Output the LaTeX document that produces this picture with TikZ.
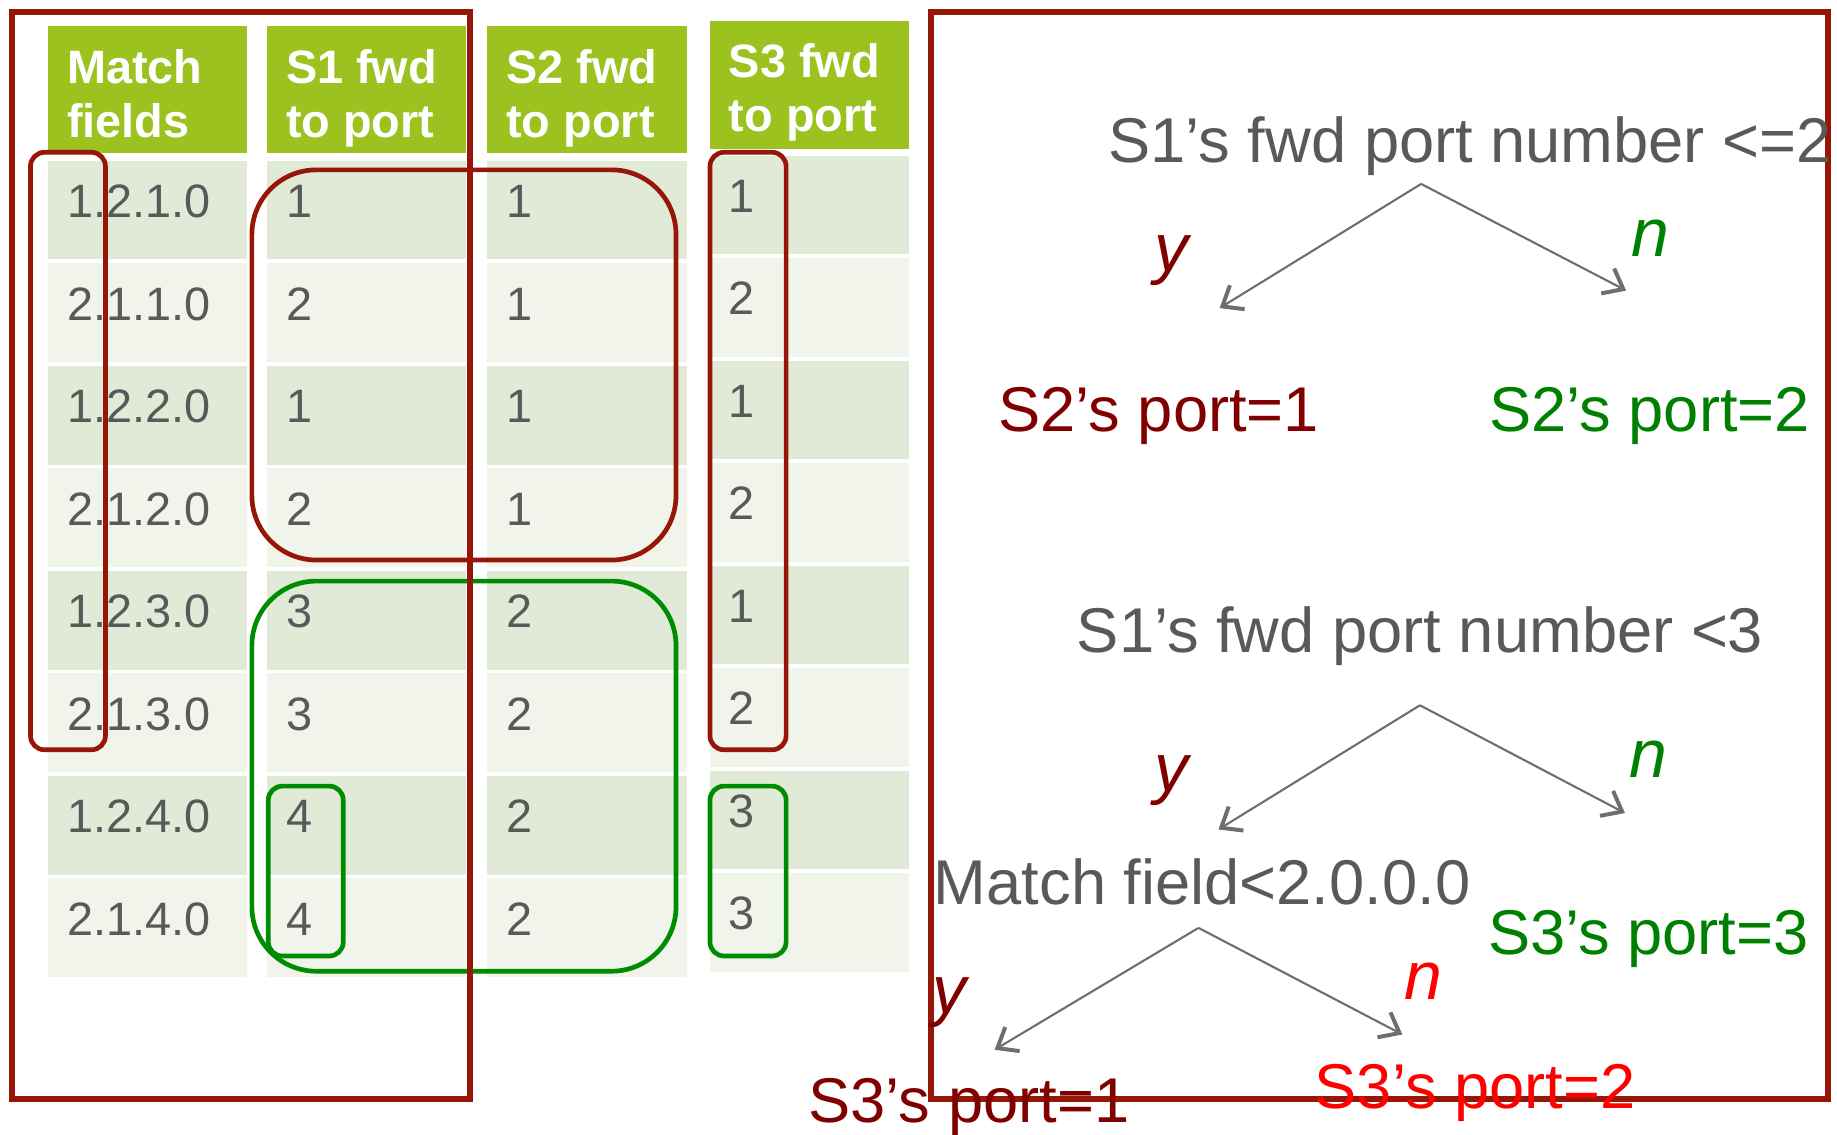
\documentclass[tikz,border=0pt]{standalone}
\usepackage{fontspec}
\setmainfont{Liberation Sans}
\usetikzlibrary{arrows.meta}
\definecolor{framered}{RGB}{150,22,8}
\definecolor{hdrgreen}{RGB}{155,194,30}
\definecolor{rowdark}{RGB}{224,234,214}
\definecolor{rowlight}{RGB}{240,244,234}
\definecolor{txtgray}{RGB}{89,89,89}
\definecolor{dred}{RGB}{128,0,0}
\definecolor{dgreen}{RGB}{0,128,0}
\definecolor{boxgreen}{RGB}{0,140,0}
\definecolor{brightred}{RGB}{255,0,0}
\definecolor{arrgray}{RGB}{110,110,110}
\tikzset{
  cellbg/.style={draw=none, inner sep=0pt, outer sep=0pt, minimum width=170pt, minimum height=84.5pt, anchor=north west},
  hdrbox/.style={fill=hdrgreen, draw=none, inner sep=0pt, outer sep=0pt, minimum width=170pt, minimum height=109pt, anchor=north west},
  hdrtxt/.style={text=white, font=\fontsize{40}{46}\selectfont\bfseries, anchor=base west, inner sep=0pt},
  celltxt/.style={text=txtgray, font=\fontsize{40}{46}\selectfont, anchor=base west, inner sep=0pt},
  treetxt/.style={font=\fontsize{54}{60}\selectfont, anchor=base west, inner sep=0pt},
  yntxt/.style={font=\fontsize{58}{64}\selectfont\itshape, anchor=base west, inner sep=0pt},
  bigframe/.style={draw=framered, line width=5pt},
  roundbox/.style={line width=4pt, fill=none},
  arr/.style={draw=arrgray, line width=1.8pt, -{Straight Barb[length=15pt,width=24pt,line width=3.4pt]}},
}
\begin{document}
\begin{tikzpicture}[x=1pt,y=-1pt]
\useasboundingbox (0,0) rectangle (1568,968);

% headers
\node[hdrbox] (h1) at (41,22) {};
\node[hdrbox] (h2) at (228,22) {};
\node[hdrbox] (h3) at (416,22) {};
\node[hdrbox] (h4) at (606,18) {};
\node[hdrtxt] (h1a) at (57,71) {Match};
\node[hdrtxt] (h1b) at (57,117) {fields};
\node[hdrtxt] (h2a) at (244,71) {S1 fwd};
\node[hdrtxt] (h2b) at (244,117) {to port};
\node[hdrtxt] (h3a) at (432,71) {S2 fwd};
\node[hdrtxt] (h3b) at (432,117) {to port};
\node[hdrtxt] (h4a) at (622,66) {S3 fwd};
\node[hdrtxt] (h4b) at (622,112) {to port};

% row backgrounds
\foreach \i/\fc in {0/rowdark,1/rowlight,2/rowdark,3/rowlight,4/rowdark,5/rowlight,6/rowdark,7/rowlight}{
  \foreach \c/\xx in {1/41,2/228,3/416}{
    \node[cellbg, fill=\fc] (bg-\c-\i) at (\xx,{137+87.5*\i}) {};
  }
  \node[cellbg, fill=\fc, minimum height=84pt] (bg-4-\i) at (606,{133+87.5*\i}) {};
}

% cell texts
\foreach \v [count=\i from 0] in {1.2.1.0,2.1.1.0,1.2.2.0,2.1.2.0,1.2.3.0,2.1.3.0,1.2.4.0,2.1.4.0}{
  \node[celltxt] (t-1-\i) at (57,{186+87.5*\i}) {\v};
}
\foreach \v [count=\i from 0] in {1,2,1,2,3,3,4,4}{
  \node[celltxt] (t-2-\i) at (244,{186+87.5*\i}) {\v};
}
\foreach \v [count=\i from 0] in {1,1,1,1,2,2,2,2}{
  \node[celltxt] (t-3-\i) at (432,{186+87.5*\i}) {\v};
}
\foreach \v [count=\i from 0] in {1,2,1,2,1,2,3,3}{
  \node[celltxt] (t-4-\i) at (622,{181+87.5*\i}) {\v};
}

% rounded grouping boxes
\draw[roundbox, draw=framered, rounded corners=12pt] (26,130) rectangle (90,640);
\draw[roundbox, draw=framered, rounded corners=55pt] (215,145) rectangle (577,478);
\draw[roundbox, draw=boxgreen, rounded corners=55pt] (215,496) rectangle (577,829);
\draw[roundbox, draw=boxgreen, rounded corners=12pt] (229,671) rectangle (293,816);
\draw[roundbox, draw=framered, rounded corners=12pt] (606,130) rectangle (671,640);
\draw[roundbox, draw=boxgreen, rounded corners=12pt] (606,671) rectangle (671,816);

% big frames
\draw[bigframe] (10,10) rectangle (401,938);
\draw[bigframe] (795,10) rectangle (1560,938);

% decision tree
\node[treetxt, text=txtgray] (q1) at (946,139) {S1’s fwd port number <=2};
\node[treetxt, text=dred] (s2p1) at (852,368) {S2’s port=1};
\node[treetxt, text=dgreen] (s2p2) at (1271,368) {S2’s port=2};
\node[yntxt, text=dred] (y1) at (985,232) {y};
\node[yntxt, text=dgreen] (n1) at (1392,219) {n};
\coordinate (a1) at (1213,157);
\coordinate (a1l) at (1041,263);
\coordinate (a1r) at (1388,248);
\draw[arr] (a1) -- (a1l);
\draw[arr] (a1) -- (a1r);

\node[treetxt, text=txtgray] (q2) at (919,557) {S1’s fwd port number <3};
\node[yntxt, text=dred] (y2) at (985,676) {y};
\node[yntxt, text=dgreen] (n2) at (1391,664) {n};
\coordinate (a2) at (1212,602);
\coordinate (a2l) at (1040,708);
\coordinate (a2r) at (1387,694);
\draw[arr] (a2) -- (a2l);
\draw[arr] (a2) -- (a2r);

\node[treetxt, text=txtgray] (q3) at (797,772) {Match field<2.0.0.0};
\node[treetxt, text=dgreen] (s3p3) at (1270,815) {S3’s port=3};
\node[yntxt, text=dred] (y3) at (796,865) {y};
\node[yntxt, text=brightred] (n3) at (1199,853) {n};
\coordinate (a3) at (1023,792);
\coordinate (a3l) at (849,896);
\coordinate (a3r) at (1197,883);
\draw[arr] (a3) -- (a3l);
\draw[arr] (a3) -- (a3r);

\node[treetxt, text=dred] (s3p1) at (690,958) {S3’s port=1};
\node[treetxt, text=brightred] (s3p2) at (1122,946) {S3’s port=2};
\end{tikzpicture}
\end{document}
